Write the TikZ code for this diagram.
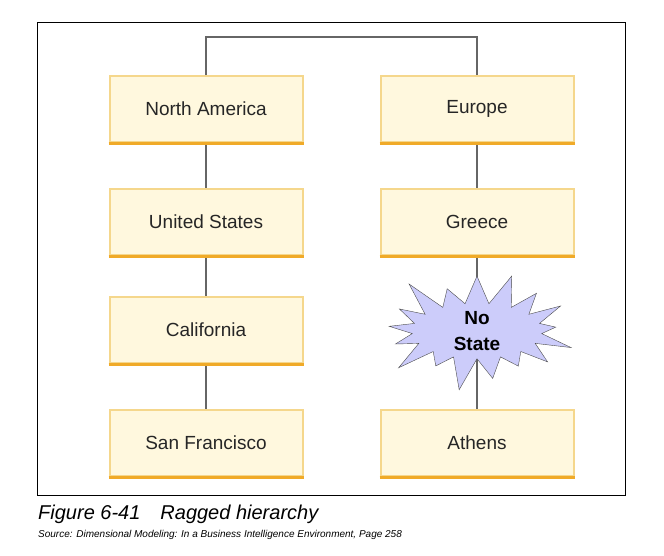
\documentclass[tikz,border=0pt]{standalone}
\usepackage{fontspec}
\setmainfont{Liberation Sans}
\usetikzlibrary{shapes.symbols}
\definecolor{cream}{RGB}{255,248,222}
\definecolor{edge}{RGB}{245,215,140}
\definecolor{bottom}{RGB}{240,170,40}
\definecolor{star}{RGB}{204,204,250}
\tikzset{
 lvl/.style={draw=edge,line width=2pt,fill=cream,minimum width=193pt,minimum height=66pt,font=\fontsize{19}{22}\selectfont,text=black!85},
 link/.style={draw=gray!80!black,line width=1.2pt}
}
\begin{document}
\begin{tikzpicture}[x=1pt,y=-1pt]
\useasboundingbox (0,0) rectangle (664,555);
\draw[black,line width=0.8pt] (37,22) rectangle (625,495);
\node[lvl] (na) at (206,109) {North America};
\node[lvl] (us) at (206,222) {United States};
\node[lvl] (ca) at (206,330) {California};
\node[lvl] (sf) at (206,443) {San Francisco};
\node[lvl] (eu) at (477,109) {Europe};
\node[lvl] (gr) at (477,222) {Greece};
\coordinate (tl) at (206,37);
\coordinate (tr) at (477,37);
\draw[link] (na.north) -- (tl) -- (tr) -- (eu.north);
\draw[link] (na) -- (us); \draw[link] (us) -- (ca); \draw[link] (ca) -- (sf);
\node[lvl] (at) at (477,443) {Athens};
\draw[link] (eu) -- (gr); \draw[link] (gr) -- (at);
\node[starburst,starburst points=17,starburst point height=38pt,draw=gray!60!black,fill=star,minimum width=206pt,minimum height=72pt,inner sep=0pt,align=center,font=\bfseries\fontsize{19}{26}\selectfont] (ns) at (477,331) {No\\State};
\foreach \n in {na,us,ca,sf,eu,gr,at}{\draw[bottom,line width=3pt] (\n.south west) -- (\n.south east);}
\node[anchor=west,font=\itshape\fontsize{20}{22}\selectfont,inner sep=0pt] (cap) at (38,514) {Figure 6-41\quad Ragged hierarchy};
\node[anchor=west,font=\itshape\fontsize{10}{12}\selectfont,inner sep=0pt] (src) at (38,535) {Source: Dimensional Modeling: In a Business Intelligence Environment, Page 258};
\end{tikzpicture}
\end{document}
